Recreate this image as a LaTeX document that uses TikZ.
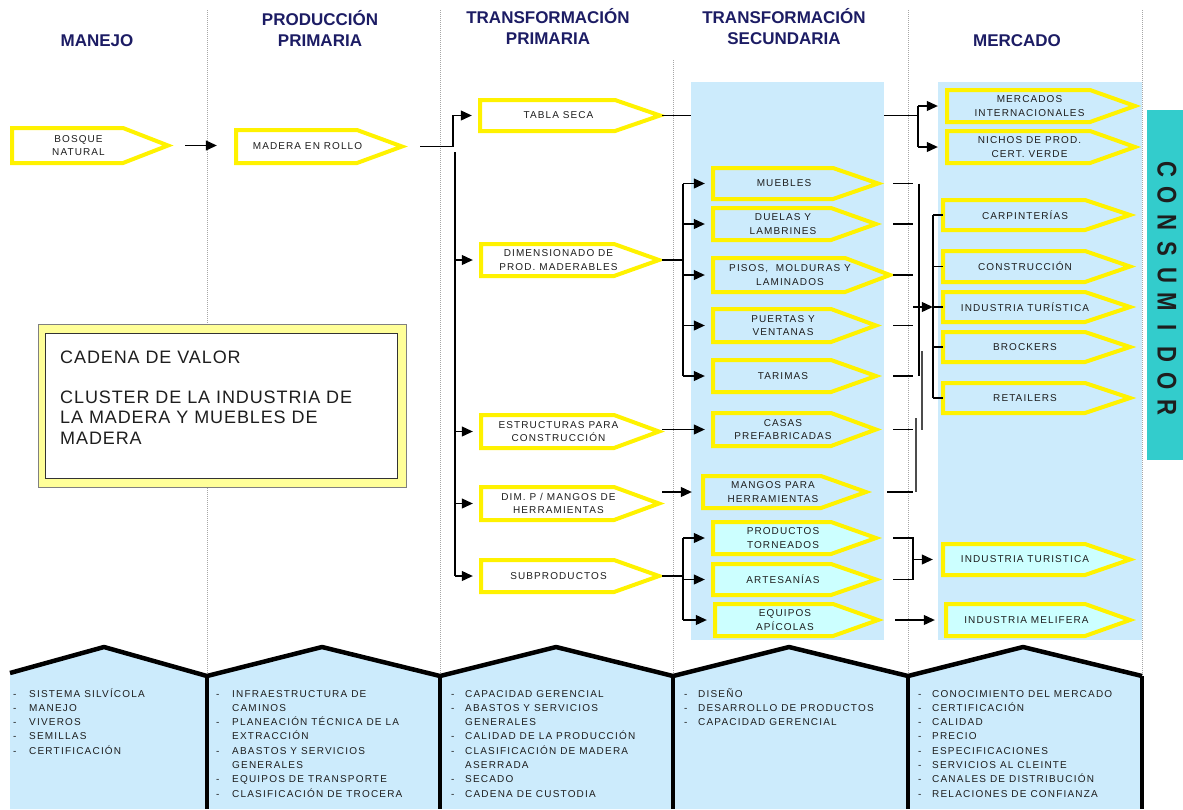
\documentclass[tikz,border=0pt]{standalone}
\usepackage{fontspec}
\setmainfont{Liberation Sans}
\newfontfamily\lblfont[LetterSpace=11]{Liberation Sans}
\newfontfamily\botfont[LetterSpace=12]{Liberation Sans}
\newfontfamily\cadfont[LetterSpace=5]{Liberation Sans}
\usetikzlibrary{arrows.meta,calc}

\definecolor{hdrnavy}{RGB}{28,28,100}
\definecolor{panelblue}{RGB}{204,235,252}
\definecolor{palecyan}{RGB}{204,255,255}
\definecolor{consteal}{RGB}{51,204,204}
\definecolor{lightyel}{RGB}{255,255,153}
\definecolor{inkdark}{RGB}{30,30,30}

\tikzset{
  sepline/.style={gray!70, line width=0.8pt, dash pattern=on 1pt off 1pt},
  con/.style={black, line width=1.1pt},
  arr/.style={con, -{Triangle[length=11pt,width=10pt]}},
  yb/.style={draw=yellow, line width=4pt, line join=miter},
  lbl/.style={font=\lblfont\fontsize{10}{13.5}\selectfont, text=inkdark, align=center, inner sep=0pt},
  hdr/.style={font=\fontsize{17}{21}\selectfont\bfseries, text=hdrnavy, anchor=base, inner sep=0pt},
  panel/.style={fill=panelblue, draw=none, inner sep=0pt},
  bottxt/.style={font=\botfont\fontsize{10}{14.3}\selectfont, text=inkdark, anchor=base west, inner sep=0pt},
  roof/.style={black, line width=4.5pt, line join=round},
  wall/.style={black, line width=3.5pt},
  consl/.style={font=\fontsize{27}{27}\selectfont\bfseries, text=inkdark, rotate=-90, xscale=0.82, inner sep=0pt},
}

% yellow arrow-shaped box: name, left, top, tip x, bottom, fill, label
\newcommand\ybox[7]{%
  \filldraw[yb, fill=#6] (#2,#3) -- ({#4-45},#3) -- (#4,{(#3+#5)/2}) -- ({#4-45},#5) -- (#2,#5) -- cycle;
  \node[inner sep=0pt, minimum width={(#4-45-#2)*1pt}, minimum height={(#5-#3)*1pt}] (#1) at ({(#2+#4-45)/2},{(#3+#5)/2}) {};
  \coordinate (#1-tip) at (#4,{(#3+#5)/2});
  \node[lbl] (#1-t) at ({(#2+#4-45)/2+11},{(#3+#5)/2}) {#7};
}

\begin{document}
\begin{tikzpicture}[x=1pt,y=-1pt]
\useasboundingbox (0,0) rectangle (1183,809);

% column separators
\draw[sepline] (207,10) -- (207,676);
\draw[sepline] (440,10) -- (440,676);
\draw[sepline] (673,60) -- (673,676);
\draw[sepline] (908,10) -- (908,676);
\draw[sepline] (1142,10) -- (1142,676);

% column headings
\node[hdr] (h1) at (97,46) {MANEJO};
\node[hdr] (h2) at (320,25) {\begin{tabular}[t]{@{}c@{}}PRODUCCIÓN\\PRIMARIA\end{tabular}};
\node[hdr] (h3) at (548,23) {\begin{tabular}[t]{@{}c@{}}TRANSFORMACIÓN\\PRIMARIA\end{tabular}};
\node[hdr] (h4) at (784,23) {\begin{tabular}[t]{@{}c@{}}TRANSFORMACIÓN\\SECUNDARIA\end{tabular}};
\node[hdr] (h5) at (1017,46) {MERCADO};

% shaded columns
\node[panel, minimum width=193pt, minimum height=558pt] (tsecp) at (787.5,361) {};
\node[panel, minimum width=204pt, minimum height=558pt] (mercp) at (1040,361) {};

% consumer band
\node[fill=consteal, inner sep=0pt, minimum width=36pt, minimum height=350pt] (cons) at (1165,285) {};
\foreach \c [count=\i] in {C,O,N,S,U,M,I,D,O,R}
  \node[consl] (cl\i) at (1167,{169+(\i-1)*26.5}) {\c};

% title box
\node[draw=gray, fill=lightyel, line width=0.8pt, minimum width=368pt, minimum height=163pt] (cadout) at (222,405.5) {};
\node[draw=black!80, fill=white, line width=1pt, minimum width=352pt, minimum height=145pt] (cadin) at (221,405.5) {};
\node[font=\cadfont\fontsize{18}{20.3}\selectfont, text=inkdark, anchor=base west, inner sep=0pt] (cadtxt) at (60,363)
  {\begin{tabular}[t]{@{}l@{}}CADENA DE VALOR\\ \\CLUSTER DE LA INDUSTRIA DE\\LA MADERA Y MUEBLES DE\\MADERA\end{tabular}};

% value chain boxes
\ybox{bosque}{12}{128}{168}{163}{white}{BOSQUE\\NATURAL}
\ybox{madera}{236}{130}{402}{163}{white}{MADERA EN ROLLO}
\ybox{tabla}{480}{100}{660}{131}{white}{TABLA SECA}
\ybox{dimen}{481}{244}{659}{276}{white}{DIMENSIONADO DE\\PROD. MADERABLES}
\ybox{estruc}{481}{415}{659}{448}{white}{ESTRUCTURAS PARA\\CONSTRUCCIÓN}
\ybox{dimp}{481}{487}{659}{520}{white}{DIM. P / MANGOS DE\\HERRAMIENTAS}
\ybox{subp}{481}{560}{659}{592}{white}{SUBPRODUCTOS}

\ybox{muebles}{713}{168}{878}{199}{panelblue}{MUEBLES}
\ybox{duelas}{713}{208}{876}{240}{panelblue}{DUELAS Y\\LAMBRINES}
\ybox{pisos}{713}{258}{890}{292}{panelblue}{PISOS,\ \ MOLDURAS Y\\LAMINADOS}
\ybox{puertas}{713}{309}{876}{342}{panelblue}{PUERTAS Y\\VENTANAS}
\ybox{tarimas}{713}{360}{876}{392}{panelblue}{TARIMAS}
\ybox{casas}{713}{413}{876}{446}{panelblue}{CASAS\\PREFABRICADAS}
\ybox{mangos}{703}{476}{866}{508}{panelblue}{MANGOS PARA\\HERRAMIENTAS}
\ybox{torneados}{713}{522}{876}{554}{palecyan}{PRODUCTOS\\TORNEADOS}
\ybox{artesanias}{713}{564}{876}{595}{palecyan}{ARTESANÍAS}
\ybox{equipos}{715}{604}{878}{636}{palecyan}{EQUIPOS\\APÍCOLAS}

\ybox{mercint}{947}{90}{1135}{122}{panelblue}{MERCADOS\\INTERNACIONALES}
\ybox{nichos}{947}{131}{1135}{163}{panelblue}{NICHOS DE PROD.\\CERT. VERDE}
\ybox{carp}{943}{200}{1130}{230}{panelblue}{CARPINTERÍAS}
\ybox{constr}{943}{251}{1130}{282}{panelblue}{CONSTRUCCIÓN}
\ybox{indtur}{943}{292}{1130}{322}{panelblue}{INDUSTRIA TURÍSTICA}
\ybox{brock}{943}{332}{1130}{362}{panelblue}{BROCKERS}
\ybox{retail}{943}{383}{1130}{413}{panelblue}{RETAILERS}
\ybox{indtur2}{943}{544}{1130}{575}{palecyan}{INDUSTRIA TURISTICA}
\ybox{melif}{946}{604}{1130}{636}{palecyan}{INDUSTRIA MELIFERA}

% junction columns
\coordinate (trP) at (455,152);
\coordinate (trS) at (683,0);
\coordinate (trM) at (918,0);
\coordinate (tkA) at (893,0);
\coordinate (tkB) at (913,0);
\coordinate (trK) at (933,0);
\coordinate (vb1) at (919,0);
\coordinate (vb2) at (922,351);
\coordinate (vb3) at (916,418);

% manejo -> produccion -> transformacion primaria
\draw[arr] ($(bosque-tip)+(17,0)$) -- ($(bosque-tip -| madera.west)+(-19,0)$);
\draw[arr] ($(madera-tip)+(18,0)$) -| ($(trP |- tabla.west)+(-2,0)$) -- ($(tabla.west)+(-8,0)$);
\draw[con] (trP) -- (trP |- subp.west);
\foreach \n in {dimen,estruc,dimp,subp}
  \draw[arr] (trP |- \n.west) -- ($(\n.west)+(-8,0)$);

% transformacion primaria -> secundaria
\draw[con] ($(dimen-tip)+(3,0)$) -- (dimen-tip -| trS);
\draw[con] (trS |- muebles.west) -- (trS |- tarimas.west);
\foreach \n in {muebles,duelas,pisos,puertas,tarimas}
  \draw[arr] (trS |- \n.west) -- ($(\n.west)+(-8,0)$);
\draw[arr] ($(estruc-tip |- casas.west)+(3,0)$) -- ($(casas.west)+(-8,0)$);
\draw[arr] ($(dimp-tip |- mangos.west)+(3,0)$) -- ($(mangos.west)+(-11,0)$);
\draw[con] ($(subp-tip)+(3,0)$) -- (subp-tip -| trS);
\draw[con] (trS |- torneados.west) -- (trS |- equipos.west);
\foreach \n in {torneados,artesanias,equipos}
  \draw[arr] (trS |- \n.west) -- ($(\n.west)+(-8,0)$);

% tabla seca -> mercados
\draw[con] ($(tabla-tip)+(2,0)$) -- (tabla-tip -| tsecp.west);
\draw[con] (tabla-tip -| tsecp.east) -- (tabla-tip -| trM);
\draw[con] (trM |- mercint.west) -- (trM |- nichos.west);
\draw[arr] (trM |- mercint.west) -- ($(mercint.west)+(-9,0)$);
\draw[arr] (trM |- nichos.west) -- ($(nichos.west)+(-9,0)$);

% transformacion secundaria -> mercado
\foreach \n in {muebles,duelas,pisos,puertas,tarimas,casas}
  \draw[con] (tkA |- \n.east) -- (tkB |- \n.east);
\draw[con] ($(tkA |- mangos.east)+(-6,0)$) -- (tkB |- mangos.east);
\draw[con] (vb1 |- muebles.east) -- (vb1 |- tarimas.east);
\draw[con, black!70] (vb2) -- (vb2 |- casas.east);
\draw[con, black!70] (vb3) -- (vb3 |- mangos.east);
\draw[arr] (tkB |- indtur.west) -- ($(indtur.west)+(-10,0)$);
\draw[con] (trK |- carp.west) -- (trK |- retail.west);
\foreach \n in {carp,constr,indtur,brock,retail}
  \draw[con] (trK |- \n.west) -- (\n.west);
\draw[con] (tkA |- torneados.east) -| (tkB |- artesanias.east) -- (tkA |- artesanias.east);
\draw[arr] (tkB |- indtur2.west) -- ($(indtur2.west)+(-10,0)$);
\draw[arr] ($(tkA |- equipos.east)+(2,0)$) -- ($(melif.west)+(-11,0)$);

% supporting factors along the bottom
\fill[panelblue] (10,673) -- (104,647) -- (207,676) -- (322,647) -- (440,676) -- (556,647) -- (673,676)
  -- (789,647) -- (908,676) -- (1023,647) -- (1142,676) -- (1142,809) -- (10,809) -- cycle;
\draw[roof] (10,673) -- (104,647) -- (207,676) -- (322,647) -- (440,676) -- (556,647) -- (673,676)
  -- (789,647) -- (908,676) -- (1023,647) -- (1142,676);
\foreach \x in {207,440,673,908,1142}
  \draw[wall] (\x,676) -- (\x,809);

\node[bottxt] (f1) at (13,697) {\begin{tabular}[t]{@{}p{16pt}@{}l@{}}
- & SISTEMA SILVÍCOLA\\
- & MANEJO\\
- & VIVEROS\\
- & SEMILLAS\\
- & CERTIFICACIÓN\end{tabular}};
\node[bottxt] (f2) at (216,697) {\begin{tabular}[t]{@{}p{16pt}@{}l@{}}
- & INFRAESTRUCTURA DE\\
  & CAMINOS\\
- & PLANEACIÓN TÉCNICA DE LA\\
  & EXTRACCIÓN\\
- & ABASTOS Y SERVICIOS\\
  & GENERALES\\
- & EQUIPOS DE TRANSPORTE\\
- & CLASIFICACIÓN DE TROCERA\end{tabular}};
\node[bottxt] (f3) at (451,697) {\begin{tabular}[t]{@{}p{14pt}@{}l@{}}
- & CAPACIDAD GERENCIAL\\
- & ABASTOS Y SERVICIOS\\
  & GENERALES\\
- & CALIDAD DE LA PRODUCCIÓN\\
- & CLASIFICACIÓN DE MADERA\\
  & ASERRADA\\
- & SECADO\\
- & CADENA DE CUSTODIA\end{tabular}};
\node[bottxt] (f4) at (684,697) {\begin{tabular}[t]{@{}p{14pt}@{}l@{}}
- & DISEÑO\\
- & DESARROLLO DE PRODUCTOS\\
- & CAPACIDAD GERENCIAL\end{tabular}};
\node[bottxt] (f5) at (918,697) {\begin{tabular}[t]{@{}p{14pt}@{}l@{}}
- & CONOCIMIENTO DEL MERCADO\\
- & CERTIFICACIÓN\\
- & CALIDAD\\
- & PRECIO\\
- & ESPECIFICACIONES\\
- & SERVICIOS AL CLEINTE\\
- & CANALES DE DISTRIBUCIÓN\\
- & RELACIONES DE CONFIANZA\end{tabular}};
\end{tikzpicture}
\end{document}
